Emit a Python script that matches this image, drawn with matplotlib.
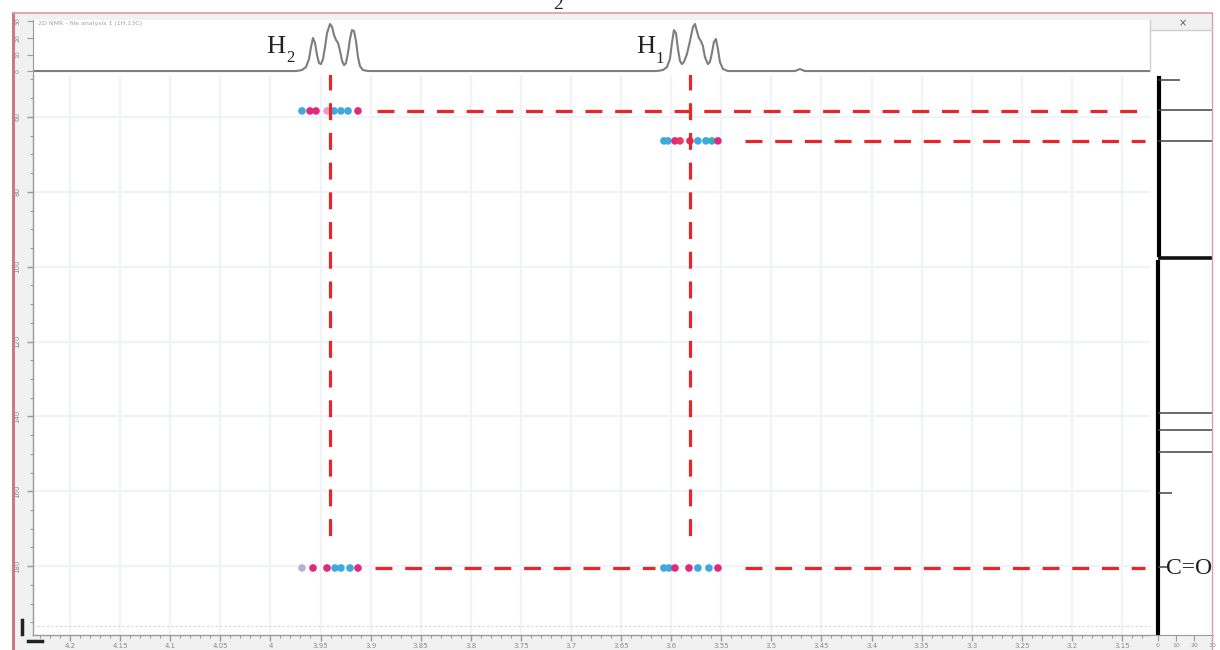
import matplotlib
matplotlib.use("Agg")
import matplotlib.pyplot as plt
from matplotlib.patches import Rectangle
from matplotlib.ticker import MultipleLocator, FixedLocator

# ---------------- data ----------------
h_ticks = [4.2, 4.15, 4.1, 4.05, 4.0, 3.95, 3.9, 3.85, 3.8, 3.75, 3.7,
           3.65, 3.6, 3.55, 3.5, 3.45, 3.4, 3.35, 3.3, 3.25, 3.2, 3.15]
h_tick_labels = ["4.2", "4.15", "4.1", "4.05", "4", "3.95", "3.9", "3.85", "3.8",
                 "3.75", "3.7", "3.65", "3.6", "3.55", "3.5", "3.45", "3.4",
                 "3.35", "3.3", "3.25", "3.2", "3.15"]
c_ticks = [60, 80, 100, 120, 140, 160, 180]
c_tick_labels = ["60", "80", "100", "120", "140", "160", "180"]
top_ticks = [0, 10, 20, 30]
proj_ticks = [0, 10, 20, 30]

# 1D proton trace (ppm, intensity)
proton_ppm = [4.237,
              3.9745, 3.9685, 3.9645, 3.9615, 3.9595, 3.9575, 3.9555, 3.9535,
              3.9515, 3.9495, 3.9475, 3.9455, 3.9435, 3.9405, 3.9385, 3.9365,
              3.9345, 3.9325, 3.9305, 3.9285, 3.9265, 3.9246, 3.9226, 3.9206,
              3.9186, 3.9166, 3.9146, 3.9126, 3.9106, 3.9076, 3.9026,
              3.6142, 3.6082, 3.6042, 3.6012, 3.5992, 3.5972, 3.5952, 3.5932,
              3.5912, 3.5892, 3.5872, 3.5842, 3.5812, 3.5782, 3.5762, 3.5743,
              3.5723, 3.5703, 3.5683, 3.5663, 3.5633, 3.5613, 3.5593, 3.5573,
              3.5553, 3.5533, 3.5513, 3.5483, 3.5433,
              3.4764, 3.4715, 3.4665, 3.1222]
proton_int = [0,
              0, 0.6, 2.4, 7.3, 14.5, 20.0, 17.0, 9.7,
              4.8, 4.2, 7.3, 14.5, 23.0, 28.5, 26.7, 21.8,
              18.8, 17.0, 12.1, 6.1, 3.6, 4.8, 10.9, 19.4,
              24.8, 24.2, 18.2, 8.5, 3.0, 0.6, 0,
              0, 0.6, 2.4, 7.3, 17.0, 24.8, 23.0, 13.3,
              6.1, 4.2, 5.5, 10.3, 18.2, 26.7, 28.5, 24.2,
              20.0, 18.2, 15.2, 8.5, 4.2, 5.5, 10.9, 17.6,
              19.4, 13.3, 5.5, 1.2, 0,
              0, 1.2, 0, 0]

# 13C projection (ppm, intensity) and line widths
c_proj_ppm = [50.1, 58.1, 66.4, 97.7, 139.2, 143.7, 149.6, 160.5, 180.3]
c_proj_int = [12, 31, 31, 31, 31, 31, 31, 7.8, 5.5]
c_proj_thick = [False, False, False, True, False, False, False, False, False]

# HMBC cross-peak contours: proton ppm, carbon ppm, colour class
xpk_h = [3.9685, 3.9605, 3.9545, 3.9435, 3.9365, 3.9296, 3.9226, 3.9126,
         3.6072, 3.6032, 3.5962, 3.5912, 3.5812, 3.5733, 3.5653, 3.5593, 3.5533,
         3.9685, 3.9575, 3.9435, 3.9355, 3.9296, 3.9206, 3.9126,
         3.6072, 3.6022, 3.5962, 3.5822, 3.5733, 3.5623, 3.5533]
xpk_c = [58.4] * 8 + [66.4] * 9 + [180.5] * 7 + [180.5] * 7
xpk_kind = ["c", "m", "m", "l", "c", "c", "c", "m",
            "c", "c", "m", "r", "m", "c", "c", "t", "m",
            "g", "m", "m", "c", "c", "c", "m",
            "c", "c", "m", "m", "c", "c", "m"]

# red dashed correlation guides
vguide_h = [3.9405, 3.5812]
vguide_c = [(48.3, 173.0), (48.3, 173.0)]
hguide_c = [58.4, 66.4, 180.5, 180.5]
hguide_h = [(3.894, 3.127), (3.526, 3.127), (3.896, 3.616), (3.526, 3.127)]

# ---------------- figure ----------------
W, H = 1220, 650
fig = plt.figure(figsize=(W / 100, H / 100), dpi=100)
fig.patch.set_facecolor("white")


def frac(x0, y0, x1, y1):
    return [x0 / W, 1 - y1 / H, (x1 - x0) / W, (y1 - y0) / H]


# background layer
bg = fig.add_axes([0, 0, 1, 1])
bg.set_xlim(0, W)
bg.set_ylim(H, 0)
bg.axis("off")
bg.set_zorder(-10)
bg.add_patch(Rectangle((13, 13), 1199, 640, facecolor="#f1f1f1", edgecolor="none"))
bg.add_patch(Rectangle((1150, 30), 62, 45, facecolor="white", edgecolor="none"))

TXT = "#8a8a8a"
SP = "#9a9a9a"

# ---- main 2D axes ----
ax = fig.add_axes(frac(33, 75, 1150, 635))
ax.set_facecolor("white")
ax.set_xlim(4.237, 3.122)
ax.set_ylim(198.4, 48.8)
for s in ["top", "right"]:
    ax.spines[s].set_visible(False)
for s in ["left", "bottom"]:
    ax.spines[s].set_color(SP)
    ax.spines[s].set_linewidth(1.0)
ax.xaxis.set_major_locator(FixedLocator(h_ticks))
ax.set_xticklabels(h_tick_labels)
ax.xaxis.set_minor_locator(MultipleLocator(0.01))
ax.yaxis.set_major_locator(FixedLocator(c_ticks))
ax.set_yticklabels(c_tick_labels, rotation=90, va="center")
ax.yaxis.set_minor_locator(MultipleLocator(5))
ax.tick_params(axis="both", which="major", length=4, width=1, color=SP,
               labelsize=5, labelcolor=TXT)
ax.tick_params(axis="both", which="minor", length=2.5, width=0.8, color=SP)
ax.tick_params(axis="x", pad=2)
ax.tick_params(axis="y", pad=5)
ax.grid(True, which="major", color="#f0f4f9", lw=1.6)

cmap = {"c": "#3ea8df", "m": "#e0287f", "l": "#ec9cc4", "r": "#e83a5a",
        "t": "#35b3b0", "g": "#b7b1cf"}
for hx, cy, k in zip(xpk_h, xpk_c, xpk_kind):
    ax.scatter([hx], [cy], s=30, color=cmap[k], edgecolors="none", zorder=4)

dash = (0, (5.3, 4.0))
RED = "#e8262a"
for hx, (c0, c1) in zip(vguide_h, vguide_c):
    ax.plot([hx, hx], [c0, c1], color=RED, lw=2.3, ls=dash, clip_on=False, zorder=5)
for cy, (h0, h1) in zip(hguide_c, hguide_h):
    ax.plot([h0, h1], [cy, cy], color=RED, lw=2.3, ls=dash, zorder=5)

# ---- top 1D proton spectrum ----
at = fig.add_axes(frac(33, 20, 1150, 75))
at.set_facecolor("white")
at.set_xlim(4.237, 3.122)
at.set_ylim(-2.4, 30.9)
for s in ["top", "right", "bottom"]:
    at.spines[s].set_visible(False)
at.spines["left"].set_color(SP)
at.set_xticks([])
at.yaxis.set_major_locator(FixedLocator(top_ticks))
at.set_yticklabels([str(t) for t in top_ticks], rotation=90, va="center")
at.tick_params(axis="y", length=4, color=SP, labelsize=4.5, labelcolor=TXT, pad=5)
at.plot(proton_ppm, proton_int, color="#7d7d7d", lw=1.5)
at.text(4.232, 30.5, "2D NMR - file analysis 1 (1H,13C)", fontsize=4.5,
        color="#a0a0a0", va="top", ha="left")

# ---- right 13C projection ----
ar = fig.add_axes(frac(1150, 75, 1213, 635))
ar.set_facecolor("white")
ar.set_ylim(198.4, 48.8)
ar.set_xlim(-4.4, 30.5)
for s in ["top", "right", "left"]:
    ar.spines[s].set_visible(False)
ar.spines["bottom"].set_color(SP)
ar.set_yticks([])
ar.xaxis.set_major_locator(FixedLocator(proj_ticks))
ar.set_xticklabels([str(t) for t in proj_ticks])
ar.tick_params(axis="x", length=4, color=SP, labelsize=4.5, labelcolor=TXT, pad=2)
ar.plot([0.6, 0.6], [49.5, 97.0], color="black", lw=3.0)
ar.plot([0.2, 0.2], [98.8, 198.4], color="black", lw=3.0)
for cy, ci, th in zip(c_proj_ppm, c_proj_int, c_proj_thick):
    ar.plot([0, ci], [cy, cy], color="#111111" if th else "#404040",
            lw=2.6 if th else 1.1, solid_capstyle="butt")

# ---- overlay decorations / labels ----
ov = fig.add_axes([0, 0, 1, 1])
ov.set_xlim(0, W)
ov.set_ylim(H, 0)
ov.axis("off")
ov.set_zorder(20)
ov.patch.set_visible(False)
PINK = "#d7a0a7"
ov.plot([13, 13], [13, 650], color="#c47c86", lw=2.2)
ov.plot([13, 1212], [13, 13], color=PINK, lw=1.2)
ov.plot([1212, 1212], [13, 650], color=PINK, lw=1.0)
ov.plot([1150, 1150], [20, 71], color="#cfcfcf", lw=1.0)
ov.plot([1150, 1212], [30, 30], color="#cfcfcf", lw=1.0)
ov.text(1183, 23, "\u00d7", fontsize=7, color="#555555", ha="center", va="center")
ov.plot([22, 22], [620, 634], color="#222222", lw=2.5)
ov.plot([28, 42], [641, 641], color="#222222", lw=2.5)
ov.plot([33, 1150], [626, 626], color="#f0c8cc", lw=0.8, ls=(0, (2, 2)))

SERIF = "Liberation Serif"
ov.text(558, 9, "2", fontsize=14, family=SERIF, color="#222222",
        ha="center", va="baseline")
ov.text(266, 53, "H", fontsize=19, family=SERIF, color="#222222",
        ha="left", va="baseline")
ov.text(286, 62, "2", fontsize=12, family=SERIF, color="#222222",
        ha="left", va="baseline")
ov.text(636, 53, "H", fontsize=19, family=SERIF, color="#222222",
        ha="left", va="baseline")
ov.text(655, 63, "1", fontsize=12, family=SERIF, color="#222222",
        ha="left", va="baseline")
ov.text(1166, 569, "C=O", fontsize=17, family=SERIF, color="#222222",
        ha="left", va="center")

fig.savefig("out.png", dpi=100, facecolor=fig.get_facecolor())
